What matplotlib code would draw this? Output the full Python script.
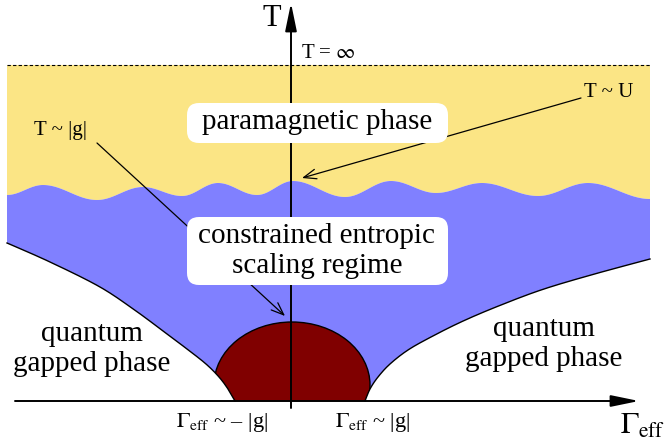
import numpy as np
import matplotlib
matplotlib.use('Agg')
import matplotlib.pyplot as plt
from matplotlib.patches import Polygon, Ellipse, FancyBboxPatch

plt.rcParams['font.family'] = ['Liberation Serif', 'DejaVu Serif']
plt.rcParams['mathtext.fontset'] = 'stix'

# schematic coordinates: Gamma_eff along x, T upward, origin at the axes crossing
T_inf = 336.0
x_left, x_right = -284.0, 359.0

# crossover T ~ U : crests and troughs of the wavy boundary
wave_gamma = [-284, -248, -194, -148, -109, -73, -34, 2, 54, 100, 145, 191, 247, 297, 359]
wave_T = [206, 216, 201, 214, 205, 218, 206, 220, 204, 220, 208, 218, 205, 218, 202]

# crossover T ~ |g| towards the quantum gapped phases
left_gamma = [-56, -63, -72, -85, -104, -128, -155, -191, -241, -284]
left_T = [0, 12, 24, 37, 52, 70, 90, 114, 139, 158]
right_gamma = [74, 79, 87, 99, 117, 140, 170, 205, 250, 300, 359]
right_T = [0, 12, 24, 37, 51, 64, 79, 94, 111, 126, 142]

# low temperature dome around Gamma_eff = 0
dome_center = (1, 16)
dome_size = (156, 126)


def cosine_path(xs, ys, n=25):
    # smooth path through extrema, flat at every knot
    gx, gy = [], []
    for i in range(len(xs) - 1):
        t = np.linspace(0, 1, n, endpoint=False)
        s = (1 - np.cos(np.pi * t)) / 2
        gx.append(xs[i] + (xs[i + 1] - xs[i]) * t)
        gy.append(ys[i] + (ys[i + 1] - ys[i]) * s)
    gx.append([xs[-1]])
    gy.append([ys[-1]])
    return np.concatenate(gx), np.concatenate(gy)


def spline_path(xs, ys, n=25):
    # catmull-rom through the given points
    pts = np.column_stack([xs, ys]).astype(float)
    p = np.vstack([pts[0], pts, pts[-1]])
    out = []
    t = np.linspace(0, 1, n, endpoint=False)[:, None]
    for i in range(1, len(p) - 2):
        p0, p1, p2, p3 = p[i - 1], p[i], p[i + 1], p[i + 2]
        seg = 0.5 * (2 * p1 + (-p0 + p2) * t + (2 * p0 - 5 * p1 + 4 * p2 - p3) * t ** 2
                     + (-p0 + 3 * p1 - 3 * p2 + p3) * t ** 3)
        out.append(seg)
    out.append(pts[-1:])
    out = np.vstack(out)
    return out[:, 0], out[:, 1]


wx, wy = cosine_path(wave_gamma, wave_T)
lx, ly = spline_path(left_gamma, left_T)
rx, ry = spline_path(right_gamma, right_T)

fig = plt.figure(figsize=(6.65, 4.43), dpi=100)
ax = fig.add_axes([0, 0, 1, 1])
ax.set_xlim(-291, 374)
ax.set_ylim(-42, 401)
ax.axis('off')

yellow = '#FBE585'
blue = '#8080FF'
darkred = '#800000'

# paramagnetic phase
para = np.vstack([np.column_stack([wx, wy]),
                  [[x_right, T_inf], [x_left, T_inf]]])
ax.add_patch(Polygon(para, closed=True, fc=yellow, ec='none', zorder=1))

# constrained entropic scaling regime
scal = np.vstack([np.column_stack([wx, wy]),
                  np.column_stack([rx, ry])[::-1],
                  np.column_stack([lx, ly])])
scal_patch = Polygon(scal, closed=True, fc=blue, ec='none', zorder=1)
ax.add_patch(scal_patch)

dome = Ellipse(dome_center, dome_size[0], dome_size[1], fc=darkred, ec='k', lw=1.0, zorder=2)
ax.add_patch(dome)
dome.set_clip_path(scal_patch)

ax.plot(lx, ly, color='k', lw=1.0, zorder=3)
ax.plot(rx, ry, color='k', lw=1.0, zorder=3)
ax.plot([x_left, x_right], [T_inf, T_inf], color='k', lw=0.8, ls=(0, (3, 2)), zorder=3)

# axes with arrows
ax.annotate('', xy=(348, 0), xytext=(-276, 0),
            arrowprops=dict(arrowstyle='-|>,head_length=1.7,head_width=0.35', lw=1.4,
                            color='k', shrinkA=0, shrinkB=0), zorder=4)
ax.annotate('', xy=(0, 398), xytext=(0, -7),
            arrowprops=dict(arrowstyle='-|>,head_length=1.7,head_width=0.35', lw=1.4,
                            color='k', shrinkA=0, shrinkB=0), zorder=4)

# labels in white boxes
for (x0, y0, w, h) in [(-104, 258, 261, 40), (-104, 116, 261, 68)]:
    ax.add_patch(FancyBboxPatch((x0 + 12, y0 + 12), w - 24, h - 24,
                                boxstyle='round,pad=12', fc='white', ec='none', zorder=5))
ax.text(26, 279, 'paramagnetic phase', fontsize=21, ha='center', va='center', zorder=6)
ax.text(26, 150, 'constrained entropic\nscaling regime', fontsize=21, ha='center', va='center',
        linespacing=1.2, zorder=6)

ax.text(-199, 52, 'quantum\ngapped phase', fontsize=21, ha='center', va='center', linespacing=1.2)
ax.text(253, 57, 'quantum\ngapped phase', fontsize=21, ha='center', va='center', linespacing=1.2)

# pointers to crossover lines
arrow = dict(arrowstyle='->,head_length=0.9,head_width=0.35', lw=0.9, color='k',
             shrinkA=0, shrinkB=0)
ax.text(318, 309, 'T ~ U', fontsize=15, ha='center', va='center')
ax.annotate('', xy=(11, 223), xytext=(290, 303), arrowprops=arrow, zorder=4)
ax.text(-231, 271, 'T ~ |g|', fontsize=15, ha='center', va='center')
ax.annotate('', xy=(-6, 85), xytext=(-194, 258), arrowprops=arrow, zorder=4)

ax.text(-19, 383, 'T', fontsize=22, ha='center', va='center', zorder=6)
ax.text(37, 348, r'T = $\infty$', fontsize=15, ha='center', va='center', zorder=6)
ax.text(-69, -21, r'$\Gamma_{\rm eff}$ ~ – |g|', fontsize=16, ha='center', va='center')
ax.text(82, -21, r'$\Gamma_{\rm eff}$ ~ |g|', fontsize=16, ha='center', va='center')
ax.text(352, -25, r'$\Gamma_{\rm eff}$', fontsize=22, ha='center', va='center')

fig.savefig('out.png', dpi=100)
